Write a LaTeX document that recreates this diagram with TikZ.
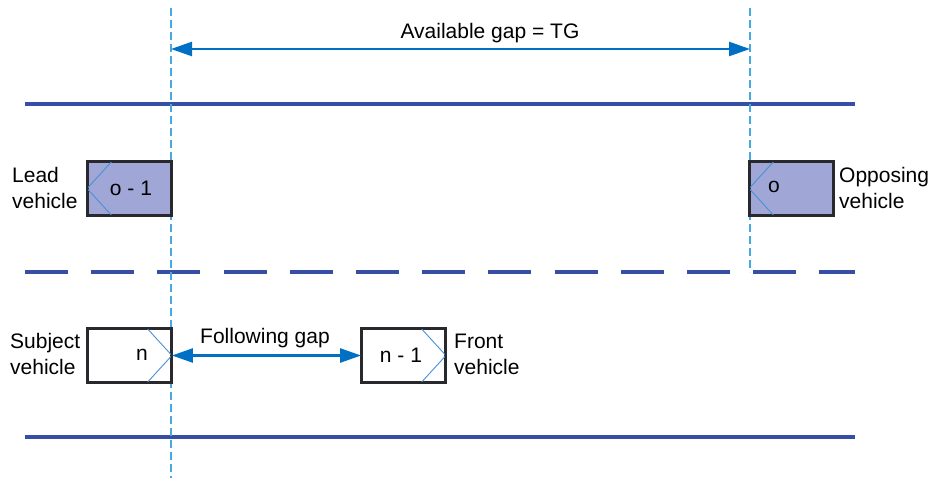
\documentclass[tikz,border=0pt]{standalone}
\usepackage{fontspec}
\setmainfont{Liberation Sans}
\usetikzlibrary{arrows.meta}
\definecolor{road}{RGB}{55,78,165}
\definecolor{vfill}{RGB}{160,167,214}
\definecolor{chev}{RGB}{70,145,215}
\definecolor{arr}{RGB}{0,112,196}
\definecolor{guide}{RGB}{70,170,225}
\definecolor{outl}{RGB}{40,40,45}
\tikzset{
  roadline/.style={road, line width=3.2pt},
  laneline/.style={road, line width=3.2pt, dash pattern=on 43pt off 23.2pt},
  vehbox/.style={draw=outl, line width=1.8pt, minimum width=83pt, minimum height=53pt, inner sep=0pt},
  chevline/.style={chev, line width=0.9pt},
  guideline/.style={guide, line width=1.2pt, dash pattern=on 8pt off 4pt},
  gaparrow/.style={arr, line width=2.4pt, {Triangle[length=21pt,width=14pt]}-{Triangle[length=21pt,width=14pt]}},
  txt/.style={font=\fontsize{21pt}{26pt}\selectfont, inner sep=0pt},
}
\begin{document}
\begin{tikzpicture}[x=1pt,y=-1pt]
\useasboundingbox (0,0) rectangle (932,481);
% roads
\coordinate (rt0) at (25,104); \coordinate (rt1) at (855,104);
\coordinate (rm0) at (25,272); \coordinate (rm1) at (855,272);
\coordinate (rb0) at (25,437); \coordinate (rb1) at (855,437);
\draw[roadline] (rt0) -- (rt1);
\draw[laneline] (rm0) -- (rm1);
\draw[roadline] (rb0) -- (rb1);
% guide lines
\coordinate (g1t) at (171,8); \coordinate (g1b) at (171,478);
\coordinate (g2t) at (750,8); \coordinate (g2b) at (750,272);
\draw[guideline] (g1t) -- (g1b);
\draw[guideline] (g2t) -- (g2b);
% vehicles
\node[vehbox, fill=vfill] (lead) at (129.5,188.5) {};
\node[vehbox, fill=vfill] (opp) at (791.5,188.5) {};
\node[vehbox, fill=white] (subj) at (129.5,355.5) {};
\node[vehbox, fill=white] (front) at (403.5,355.5) {};
% chevrons
\draw[chevline] ([xshift=25pt]lead.north west) -- (lead.west) -- ([xshift=25pt]lead.south west);
\draw[chevline] ([xshift=25pt]opp.north west) -- (opp.west) -- ([xshift=25pt]opp.south west);
\draw[chevline] ([xshift=-25pt]subj.north east) -- (subj.east) -- ([xshift=-25pt]subj.south east);
\draw[chevline] ([xshift=-25pt]front.north east) -- (front.east) -- ([xshift=-25pt]front.south east);
\draw[outl, line width=1.8pt] (lead.north west) rectangle (lead.south east);
\draw[outl, line width=1.8pt] (opp.north west) rectangle (opp.south east);
\draw[outl, line width=1.8pt] (subj.north west) rectangle (subj.south east);
\draw[outl, line width=1.8pt] (front.north west) rectangle (front.south east);
% vehicle labels
\node[txt] (tlead) at (131,188) {o - 1};
\node[txt] (topp) at (774,187) {o};
\node[txt] (tsubj) at (142,355) {n};
\node[txt] (tfront) at (401,355) {n - 1};
% side labels
\node[txt, anchor=west, align=left] (llead) at (12,188) {Lead\\vehicle};
\node[txt, anchor=west, align=left] (lopp) at (839,188) {Opposing\\vehicle};
\node[txt, anchor=west, align=left] (lsubj) at (10,354) {Subject\\vehicle};
\node[txt, anchor=west, align=left] (lfront) at (454,354) {Front\\vehicle};
% gap arrows
\coordinate (a1) at (171,49); \coordinate (a2) at (750,49);
\draw[gaparrow] (a1) -- (a2);
\node[txt] (tg) at (490,33) {Available gap = TG};
\draw[gaparrow] (subj.east) -- (front.west);
\node[txt] (fg) at (265,338) {Following gap};
\end{tikzpicture}
\end{document}
